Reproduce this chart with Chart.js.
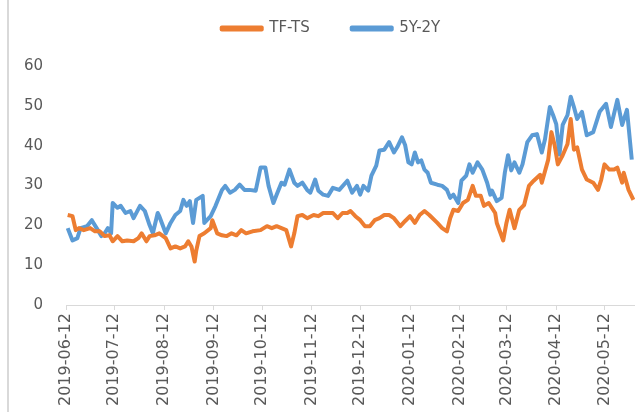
<!DOCTYPE html>
<html><head><meta charset="utf-8">
<script src="https://cdn.jsdelivr.net/npm/chart.js@4.4.1/dist/chart.umd.min.js"></script>
<style>
html,body{margin:0;padding:0;background:#fff;}
#wrap{position:relative;width:635px;height:412px;overflow:hidden;}
#frame{position:absolute;left:7px;top:0;width:2px;height:412px;background:#d9d9d9;}
canvas{position:absolute;left:0;top:0;}
</style></head><body>
<div id="wrap"><div id="frame"></div><canvas id="c" width="635" height="412"></canvas></div>
<script>
// ---- data (days counted from the start date) ----
const startDate = '2019-06-12';
const tickLabels = ['2019-06-12','2019-07-12','2019-08-12','2019-09-12','2019-10-12','2019-11-12',
  '2019-12-12','2020-01-12','2020-02-12','2020-03-12','2020-04-12','2020-05-12'];
const seriesNames = ['TF-TS', '5Y-2Y'];

const tfTsDays = [1,4,6,8,11,15,18,21,24,27,29,32,35,38,42,45,47,50,52,55,58,62,65,68,71,74,76,78,80,81,83,86,90,91,94,97,100,103,106,109,112,116,121,125,128,131,134,137,140,142,144,147,150,154,157,160,163,166,169,172,175,177,180,183,186,189,192,195,198,201,204,208,211,214,217,220,223,226,231,234,237,239,241,244,247,250,253,255,258,260,263,267,268,272,274,276,279,282,285,288,291,295,296,300,302,304,306,309,312,314,316,318,321,324,328,331,333,335,338,341,343,346,347,350,353];
const tfTsValues = [22.6,22.3,18.8,19.3,18.8,19.3,18.5,18.5,17.3,17.5,16,17.3,16,16.2,16,16.8,18,16,17.3,17.5,18,16.8,14.2,14.7,14.2,14.7,16,14.7,10.9,13.7,17.3,18,19.3,21.3,18,17.5,17.3,18,17.5,18.8,18,18.5,18.8,19.8,19.3,19.8,19.3,18.8,14.7,18,22.3,22.6,21.8,22.6,22.3,23.1,23.1,23.1,21.8,23.1,23.1,23.6,22.3,21.3,19.8,19.8,21.3,21.8,22.6,22.6,21.8,19.8,21.1,22.3,20.6,22.6,23.6,22.6,20.6,19.3,18.5,21.8,23.9,23.6,25.6,26.4,29.9,27.4,27.4,24.9,25.6,23.1,20.6,16.2,20.6,23.9,19.3,23.9,25.1,29.9,31.2,32.7,30.7,36.5,43.4,40.1,35.3,37.6,40.4,46.7,39,39.6,34,31.5,30.7,28.9,31.5,35.3,34,34,34.5,30.7,33.2,28.9,26.4];

const spreadDays = [1,4,7,9,13,16,19,22,24,26,28,29,32,34,37,40,42,46,49,52,54,57,58,62,65,68,71,73,75,77,79,81,85,86,90,93,97,99,102,105,108,111,114,118,121,124,126,129,131,134,136,139,142,144,147,150,152,155,157,160,163,166,170,175,178,181,183,185,188,190,193,195,198,201,204,206,209,211,213,215,217,219,221,223,225,227,231,234,237,239,241,244,246,249,251,253,256,259,262,264,265,268,271,273,275,277,279,282,284,287,290,293,296,298,301,303,305,307,309,312,314,316,318,321,324,328,332,336,339,343,346,349,352];
const spreadValues = [19.3,16.2,16.8,19.3,19.8,21.3,19.3,17.3,18,19.3,18,25.6,24.4,24.9,23.1,23.6,21.8,24.9,23.6,20,18,23.1,22.3,18,20.6,22.6,23.6,26.4,24.9,26.1,20.6,26.4,27.4,20.6,22.3,24.9,28.9,29.9,28.2,28.9,30.2,28.9,28.9,28.7,34.5,34.5,29.9,25.6,27.7,30.7,30.2,34,30.7,29.9,30.7,28.9,28.2,31.5,28.7,27.7,27.4,29.4,28.9,31.2,28.2,29.9,27.7,29.9,28.7,32.5,35,38.8,39,40.9,38.3,39.6,42.1,40.1,35.8,35.3,38.3,35.8,36.3,34,33.2,30.7,30.2,29.9,28.9,26.9,27.7,25.6,31.2,32.5,35.3,33.2,35.8,34,30.7,27.7,28.7,26.1,26.9,33.2,37.6,33.8,35.8,33.2,35.3,40.9,42.6,42.9,38.3,41.6,49.7,47.7,45.4,37.8,45.2,47.7,52.3,49.7,46.7,48.5,42.6,43.4,48.5,50.5,44.7,51.5,45.2,49,36.5];

const yMin = 0, yMax = 60, yStep = 10;
const xMaxDay = 354;

// ---- build ----
const DAY = 86400000;
const t0 = Date.parse(startDate);
const tickDays = tickLabels.map(l => Math.round((Date.parse(l) - t0) / DAY));
const toPoints = (days, vals) => days.map((d, i) => ({x: d, y: vals[i]}));

const FONT = 'DejaVu Sans';
const TXT = '#595959';

const legendGap = {
  id: 'legendGap',
  beforeInit(chart) {
    const lg = chart.legend;
    if (lg && !lg._gapWrapped) {
      const fit = lg.fit;
      lg.fit = function() { fit.call(this); this.height += 20; };
      lg._gapWrapped = true;
    }
  },
  afterLayout(chart) {
    if (chart.legend) chart.legend.left += 26;
  }
};

new Chart(document.getElementById('c'), {
  type: 'line',
  data: {
    datasets: [
      { label: seriesNames[0], data: toPoints(tfTsDays, tfTsValues), borderColor: '#ED7D31', backgroundColor: '#ED7D31',
        borderWidth: 4, pointRadius: 0, tension: 0, borderJoinStyle: 'round' },
      { label: seriesNames[1], data: toPoints(spreadDays, spreadValues), borderColor: '#5B9BD5', backgroundColor: '#5B9BD5',
        borderWidth: 4, pointRadius: 0, tension: 0, borderJoinStyle: 'round' }
    ]
  },
  options: {
    responsive: false,
    animation: false,
    events: [],
    layout: { padding: { left: 1, right: 0, top: -21, bottom: 3 } },
    plugins: {
      tooltip: { enabled: false },
      legend: {
        position: 'top', align: 'center',
        labels: { boxWidth: 40, boxHeight: 2, padding: 42, color: TXT, font: { family: FONT, size: 15 } }
      }
    },
    scales: {
      x: {
        type: 'linear', min: 0, max: xMaxDay,
        afterBuildTicks: s => { s.ticks = tickDays.map(v => ({ value: v })); },
        ticks: {
          autoSkip: false, minRotation: 90, maxRotation: 90, padding: 3, color: TXT,
          font: { family: FONT, size: 16 },
          callback: (v, i) => tickLabels[i]
        },
        grid: { display: true, drawOnChartArea: false, drawTicks: true, tickLength: 5, color: '#d9d9d9', lineWidth: 1 },
        border: { display: true, color: '#d9d9d9', width: 1 }
      },
      y: {
        min: yMin, max: yMax,
        ticks: { stepSize: yStep, padding: 23, color: TXT, font: { family: FONT, size: 15 } },
        grid: { display: false, drawTicks: false, tickLength: 0 },
        border: { display: false }
      }
    }
  },
  plugins: [legendGap]
});
</script>
</body></html>
